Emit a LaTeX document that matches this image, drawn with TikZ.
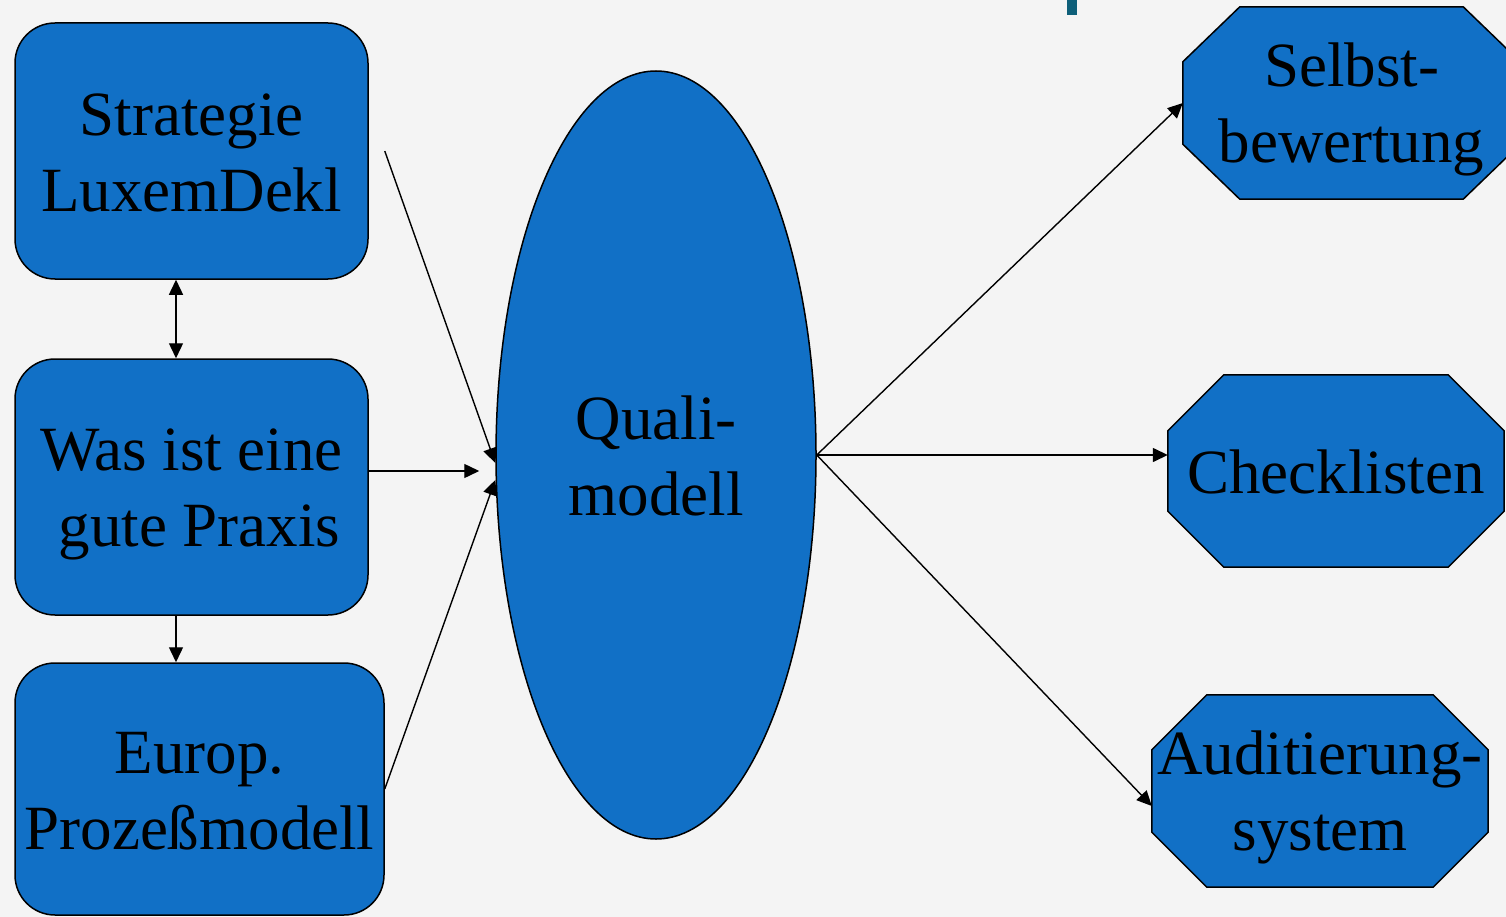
\documentclass[tikz,border=0pt]{standalone}
\usepackage{fontspec}
\setmainfont{Liberation Serif}
\usetikzlibrary{shapes.geometric,arrows.meta,calc,backgrounds}
\definecolor{bgcol}{HTML}{F4F4F4}
\definecolor{boxblue}{HTML}{1170C6}
\definecolor{tealmark}{HTML}{0E5F79}
\newcommand\ls{\rule[-0.18em]{0pt}{1.08em}}
\newcommand\myoct[3]{%
  \path[octfill] ($(#1.north west)+(#2,0)$) -- ($(#1.north east)+(-#2,0)$)
    -- ($(#1.north east)+(0,#3)$) -- ($(#1.south east)+(0,-#3)$)
    -- ($(#1.south east)+(-#2,0)$) -- ($(#1.south west)+(#2,0)$)
    -- ($(#1.south west)+(0,-#3)$) -- ($(#1.north west)+(0,#3)$) -- cycle;}
\tikzset{
  bigtext/.style={font=\fontsize{63}{76}\selectfont, align=center, text=black},
  rbox/.style={bigtext, rectangle, rounded corners=40pt, draw=black, line width=1.5pt, fill=boxblue, inner sep=0pt},
  octn/.style={bigtext, rectangle, inner sep=0pt},
  octfill/.style={draw=black, line width=1.5pt, fill=boxblue},
  ellnode/.style={bigtext, ellipse, draw=black, line width=1.5pt, fill=boxblue, inner sep=0pt, minimum width=320pt, minimum height=768pt},
  arr/.style={draw=black, line width=1.4pt, -{Triangle[length=15pt,width=14pt]}},
  darr/.style={draw=black, line width=1.4pt, {Triangle[length=15pt,width=14pt]}-{Triangle[length=15pt,width=14pt]}}
}
\begin{document}
\begin{tikzpicture}[x=1pt,y=-1pt]
\useasboundingbox (0,0) rectangle (1506,917);
% left boxes
\node[rbox, minimum width=353pt, minimum height=256pt] (s) at (191.5,151) {\ls Strategie\\\ls LuxemDekl};
\node[rbox, minimum width=353pt, minimum height=256pt] (w) at (191.5,487) {\ls Was ist eine\\\ls\hspace*{16pt}gute Praxis};
\node[rbox, minimum width=369pt, minimum height=252pt] (e) at (199.5,789) {\ls Europ.\\\ls Proze\ss modell};
% ellipse
\node[ellnode] (q) at (656,455) {\ls Quali-\\\ls modell};
% octagon nodes
\node[octn, minimum width=337pt, minimum height=192pt] (sb) at (1351.5,103) {\ls Selbst-\\\ls bewertung};
\node[octn, minimum width=336pt, minimum height=192pt] (ch) at (1336,471) {\ls Checklisten};
\node[octn, minimum width=336pt, minimum height=192pt] (au) at (1320,791) {\ls Auditierung-\\\ls system};
\begin{scope}[on background layer]
  \fill[bgcol] (0,0) rectangle (1506,917);
  \fill[tealmark] (1067,0) rectangle (1077,15);
  \myoct{sb}{57}{55}
  \myoct{ch}{56}{56}
  \myoct{au}{55}{55}
\end{scope}
% connectors
\draw[darr] ($(s.south)+(-15.5,0)$) -- ($(w.north)+(-15.5,0)$);
\draw[arr] ($(w.south)+(-15.5,0)$) -- ($(e.north)+(-23.5,0)$);
\draw[arr] ($(s.east)+(16,0)$) -- ($(q.west)+(0,8)$);
\draw[arr] ($(w.east)+(0,-16)$) -- ($(q.west)+(-16,16)$);
\draw[arr] (e.east) -- ($(q.west)+(0,25)$);
\draw[arr] (q.east) -- (sb.west);
\draw[arr] (q.east) -- ($(ch.west)+(0,-16)$);
\draw[arr] (q.east) -- ($(au.west)+(0,15)$);
\end{tikzpicture}
\end{document}
